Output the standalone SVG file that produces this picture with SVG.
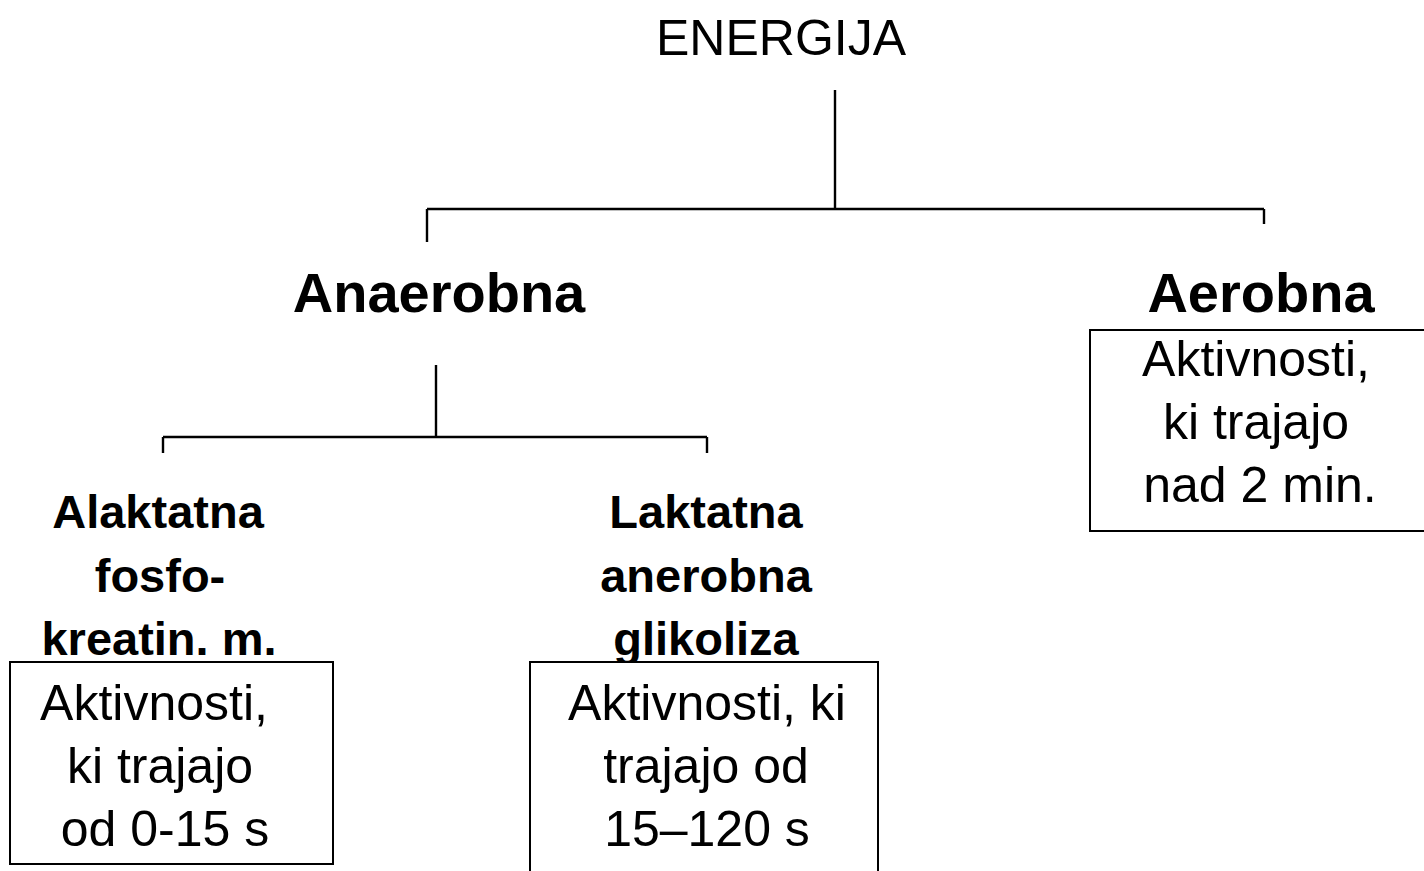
<svg xmlns="http://www.w3.org/2000/svg" width="1424" height="871" viewBox="0 0 1424 871">
<style>
text{font-family:"Liberation Sans",Arial,sans-serif;fill:#000;text-anchor:middle}
.t{font-size:50px}
.h1{font-size:56px;font-weight:bold}
.h2{font-size:47px;font-weight:bold}
.b{font-size:50px}
.ln{stroke:#000;stroke-width:2.4;fill:none}
.box{fill:#fff;stroke:#000;stroke-width:2}
</style>
<rect width="1424" height="871" fill="#fff"/>
<g id="connectors">
<path class="ln" d="M835 90V209M427 209H1264M427 209V242M1264 209V224"/>
<path class="ln" d="M436 365V437M163 437H707M163 437V453M707 437V453"/>
</g>
<g id="energija"><text class="t" x="781" y="55">ENERGIJA</text></g>
<g id="anaerobna"><text class="h1" x="439" y="312">Anaerobna</text></g>
<g id="aerobna"><text class="h1" x="1261" y="312">Aerobna</text></g>
<g id="aerobna-box">
<rect class="box" x="1090" y="330" width="340" height="201"/>
<text class="b" x="1256" y="376">Aktivnosti,</text>
<text class="b" x="1256" y="439">ki trajajo</text>
<text class="b" x="1260" y="502">nad 2 min.</text>
</g>
<g id="alaktatna">
<text class="h2" x="158" y="528">Alaktatna</text>
<text class="h2" x="160" y="592">fosfo-</text>
<text class="h2" x="159" y="655">kreatin. m.</text>
</g>
<g id="laktatna">
<text class="h2" x="706" y="528">Laktatna</text>
<text class="h2" x="706" y="592">anerobna</text>
<text class="h2" x="706" y="655">glikoliza</text>
</g>
<g id="alaktatna-box">
<rect class="box" x="10" y="662" width="323" height="202"/>
<text class="b" x="154" y="720">Aktivnosti,</text>
<text class="b" x="160" y="783">ki trajajo</text>
<text class="b" x="165" y="846">od 0-15 s</text>
</g>
<g id="laktatna-box">
<rect class="box" x="530" y="662" width="348" height="215"/>
<text class="b" x="707" y="720">Aktivnosti, ki</text>
<text class="b" x="706" y="783">trajajo od</text>
<text class="b" x="707" y="846">15–120 s</text>
</g>
</svg>
